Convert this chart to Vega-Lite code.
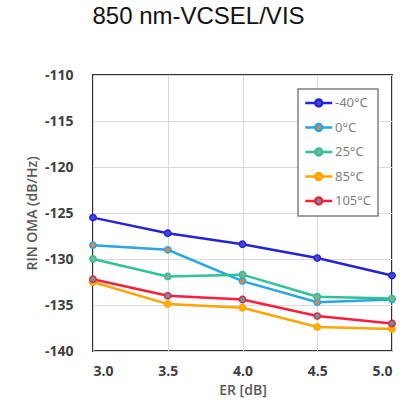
{
  "$schema": "https://vega.github.io/schema/vega-lite/v6.json",
  "autosize": {"type": "none"},
  "width": 299,
  "height": 276,
  "padding": {"left": 93, "top": 75, "right": 16, "bottom": 49},
  "title": {
    "text": "850 nm-VCSEL/VIS",
    "font": "Liberation Sans",
    "fontSize": 24,
    "fontWeight": "normal",
    "color": "#111111",
    "anchor": "middle",
    "baseline": "alphabetic",
    "offset": 20,
    "dx": -44
  },
  "config": {
    "view": {"stroke": "#333333", "strokeWidth": 2},
    "axis": {
      "labelFont": "Open Sans",
      "labelFontWeight": "bold",
      "labelFontSize": 14,
      "labelColor": "#404040",
      "titleFont": "Open Sans",
      "titleFontWeight": 600,
      "titleFontSize": 14,
      "titleColor": "#595959",
      "gridColor": "#d9d9d9",
      "gridWidth": 1,
      "domain": false,
      "ticks": false
    },
    "legend": {"strokeWidth": 1.5}
  },
  "data": {
    "values": [
      {"er": 3.0, "series": "-40°C", "rin": -125.5},
      {"er": 3.5, "series": "-40°C", "rin": -127.2},
      {"er": 4.0, "series": "-40°C", "rin": -128.4},
      {"er": 4.5, "series": "-40°C", "rin": -129.9},
      {"er": 5.0, "series": "-40°C", "rin": -131.8},
      {"er": 3.0, "series": "0°C", "rin": -128.5},
      {"er": 3.5, "series": "0°C", "rin": -129.0},
      {"er": 4.0, "series": "0°C", "rin": -132.4},
      {"er": 4.5, "series": "0°C", "rin": -134.7},
      {"er": 5.0, "series": "0°C", "rin": -134.4},
      {"er": 3.0, "series": "25°C", "rin": -130.0},
      {"er": 3.5, "series": "25°C", "rin": -131.9},
      {"er": 4.0, "series": "25°C", "rin": -131.7},
      {"er": 4.5, "series": "25°C", "rin": -134.1},
      {"er": 5.0, "series": "25°C", "rin": -134.3},
      {"er": 3.0, "series": "85°C", "rin": -132.5},
      {"er": 3.5, "series": "85°C", "rin": -134.9},
      {"er": 4.0, "series": "85°C", "rin": -135.3},
      {"er": 4.5, "series": "85°C", "rin": -137.4},
      {"er": 5.0, "series": "85°C", "rin": -137.6},
      {"er": 3.0, "series": "105°C", "rin": -132.2},
      {"er": 3.5, "series": "105°C", "rin": -134.0},
      {"er": 4.0, "series": "105°C", "rin": -134.4},
      {"er": 4.5, "series": "105°C", "rin": -136.2},
      {"er": 5.0, "series": "105°C", "rin": -137.0}
    ]
  },
  "encoding": {
    "x": {
      "field": "er", "type": "quantitative",
      "scale": {"domain": [3, 5]},
      "axis": {"values": [3, 3.5, 4, 4.5, 5], "format": ".1f", "title": "ER [dB]", "labelPadding": 13, "titlePadding": 5}
    },
    "y": {
      "field": "rin", "type": "quantitative",
      "scale": {"domain": [-140, -110]},
      "axis": {"values": [-140, -135, -130, -125, -120, -115, -110], "labelExpr": "replace(datum.label, '\u2212', '-')", "title": "RIN OMA (dB/Hz)", "labelPadding": 20, "titlePadding": 5}
    },
    "stroke": {
      "field": "series", "type": "nominal",
      "scale": {
        "domain": ["-40°C", "0°C", "25°C", "85°C", "105°C"],
        "range": ["#2424d6", "#2aa6e0", "#2cc397", "#ffa400", "#ff1c3c"]
      },
      "legend": {
        "title": null,
        "orient": "top-right",
        "offset": 14,
        "symbolType": "M-1,0H0.48A0.52,0.52 0 1,1 1.52,0A0.52,0.52 0 1,1 0.48,0M1.52,0H3",
        "symbolSize": 182,
        "symbolStrokeWidth": 2.5,
        "labelFont": "Noto Sans",
        "labelFontSize": 13,
        "labelColor": "#7f7f7f",
        "labelOffset": 15,
        "rowPadding": 6.5,
        "strokeColor": "#808080",
        "padding": 6,
        "fillColor": "white"
      }
    }
  },
  "layer": [
    {"mark": {"type": "line", "strokeWidth": 2.5}},
    {
      "mark": {"type": "point", "filled": false, "size": 40, "strokeWidth": 1.5, "opacity": 1},
      "encoding": {
        "fill": {
          "field": "series", "type": "nominal",
          "scale": {
            "domain": ["-40°C", "0°C", "25°C", "85°C", "105°C"],
            "range": ["#4646d2", "#d9864c", "#8fa89c", "#ffb000", "#4aa3a3"]
          },
          "legend": {
            "title": null,
            "orient": "top-right",
            "offset": 14
          }
        }
      }
    }
  ]
}
